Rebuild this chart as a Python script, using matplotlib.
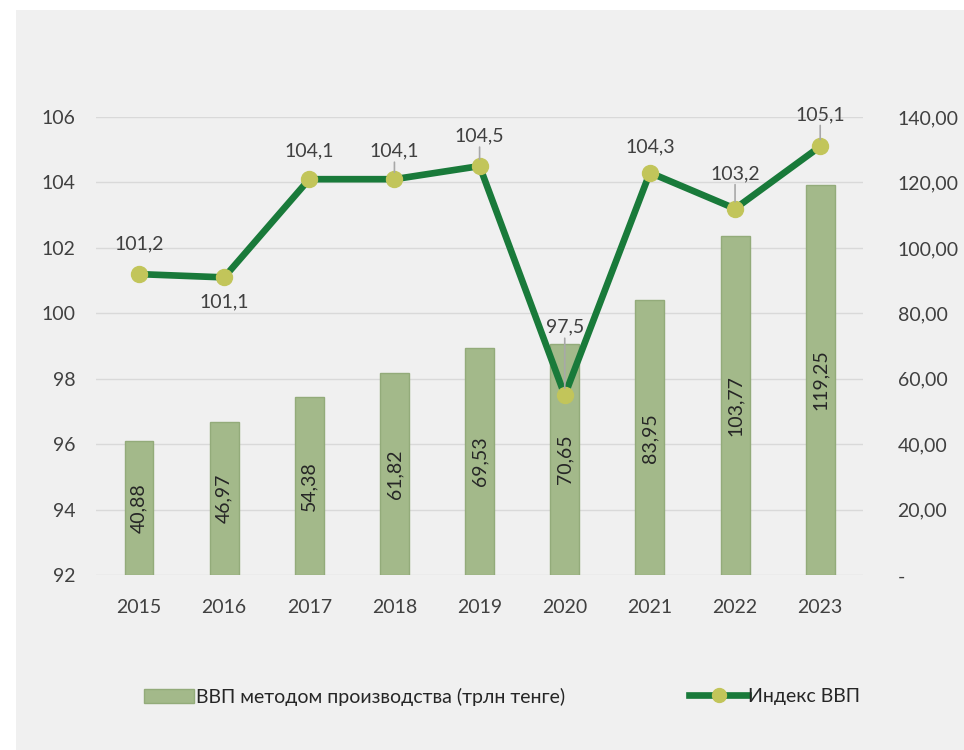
import matplotlib.pyplot as plt
import numpy as np

years = ['2015', '2016', '2017', '2018', '2019', '2020', '2021', '2022', '2023']
gdp = [40.88, 46.97, 54.38, 61.82, 69.53, 70.65, 83.95, 103.77, 119.25]
index = [101.2, 101.1, 104.1, 104.1, 104.5, 97.5, 104.3, 103.2, 105.1]

plt.rcParams['font.family'] = ['Lato', 'DejaVu Sans']
txt = '#404040'
bg = '#f0f0f0'
bar_c = '#a3b98a'
line_c = '#197a3a'
mark_c = '#c2c55a'

fig = plt.figure(figsize=(9.64, 7.5), dpi=100, facecolor='white')
# grey panel with a thin white margin top/left
fig.patches.append(plt.Rectangle((16 / 964, 0), 1, 1 - 10 / 750, transform=fig.transFigure,
                                 facecolor=bg, edgecolor='none', zorder=-10))

ax = fig.add_axes([0.100, 0.233, 0.795, 0.611])
ax2 = ax.twinx()

x = np.arange(len(years))

# bars on the right axis (drawn under the line)
ax2.set_zorder(1)
ax.set_zorder(2)
ax.patch.set_visible(False)
ax2.patch.set_visible(False)
ax2.bar(x, gdp, width=0.34, color=bar_c, edgecolor='#93ab7a', linewidth=1)
for xi, v in zip(x, gdp):
    ax2.text(xi, v / 2, f'{v:.2f}'.replace('.', ','), rotation=90, ha='center', va='center',
             fontsize=14, color='#262626')
ax2.set_ylim(0, 140)
ax2.set_yticks(np.arange(0, 141, 20))
ax2.set_yticklabels(['-'] + [f'{t},00' for t in range(20, 141, 20)])
ax2.set_axisbelow(True)
ax2.grid(axis='y', color='#d9d9d9', linewidth=1)

# index line on the left axis
ax.plot(x, index, color=line_c, linewidth=4.8, marker='o', markersize=11.5,
        markerfacecolor=mark_c, markeredgecolor=mark_c, zorder=3)
ax.set_ylim(92, 106)
ax.set_xlim(-0.5, 8.5)
ax.set_yticks(np.arange(92, 107, 2))
ax.set_xticks(x)
ax.set_xticklabels(years)
ax.grid(False)

# label offsets in pixels (label centre above/below the point)
offsets = [30, -24, 28, 28, 30, 68, 26, 35, 32]
leaders = [3, 4, 5, 7, 8]
for i, (xi, v, off) in enumerate(zip(x, index, offsets)):
    ax.annotate(f'{v:.1f}'.replace('.', ','), (xi, v), xytext=(0, off),
                textcoords='offset pixels', ha='center', va='center', fontsize=14, color=txt)
    if i in leaders:
        ax.annotate('', (xi, v), xytext=(0, off - 11), textcoords='offset pixels',
                    arrowprops=dict(arrowstyle='-', color='#a8a8a8', lw=1.2,
                                    shrinkA=0, shrinkB=5))

for a in (ax, ax2):
    for s in a.spines.values():
        s.set_visible(False)
    a.tick_params(length=0, labelsize=14, colors=txt)
ax.tick_params(axis='x', pad=17)
ax.tick_params(axis='y', pad=15)
ax2.tick_params(axis='y', pad=25)

h1 = plt.Rectangle((0, 0), 1, 1, facecolor=bar_c, edgecolor='#93ab7a')
h2 = plt.Line2D([], [], color=line_c, linewidth=4.8, marker='o', markersize=10,
                markerfacecolor=mark_c, markeredgecolor=mark_c)
fig.legend([h1], ['ВВП методом производства (трлн тенге)'], loc='center left',
           bbox_to_anchor=(0.131, 0.071), frameon=False, fontsize=14, handlelength=2.6,
           handleheight=0.8, handletextpad=0.1, labelcolor='#262626')
fig.legend([h2], ['Индекс ВВП'], loc='center left', bbox_to_anchor=(0.697, 0.071),
           frameon=False, fontsize=14, handlelength=3.0, handletextpad=0.0,
           labelcolor='#262626')

fig.savefig('out.png', dpi=100, facecolor='white')
